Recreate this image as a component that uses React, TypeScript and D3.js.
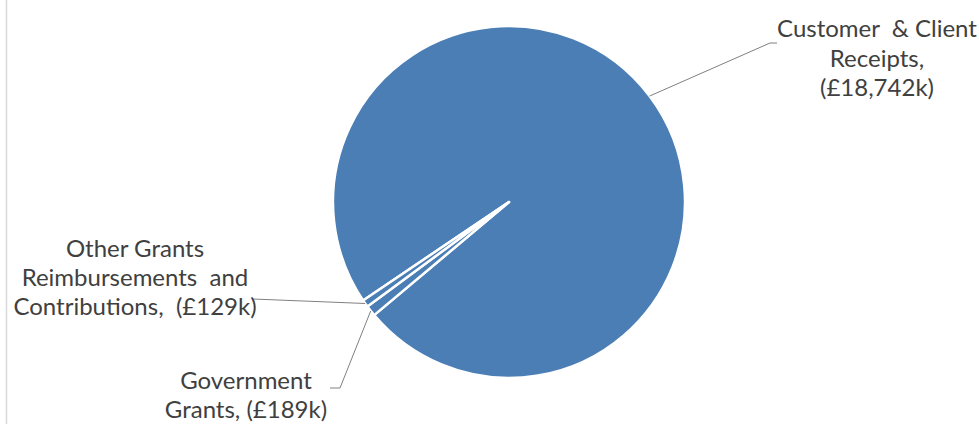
import React from "react";
import * as d3 from "d3";

const categories = [
  "Customer & Client Receipts",
  "Government Grants",
  "Other Grants Reimbursements and Contributions",
];
const values = [18742, 189, 129];
const labelLines = [
  ["Customer  & Client", "Receipts,", "(£18,742k)"],
  ["Government", "Grants, (£189k)"],
  ["Other Grants", "Reimbursements  and", "Contributions,  (£129k)"],
];

const W = 979;
const H = 424;
const cx = 509;
const cy = 202;
const R = 176;
const START = (236 * Math.PI) / 180;
const FILL = "#4a7eb4";
const TEXT = "#404040";
const LEADER = "#808080";
const FONT = "Lato, 'Open Sans', sans-serif";
const FS = 24;

// label layout: center x, first baseline, line pitch, leader elbow points
const labelLayout = [
  { x: 877, y: 37, pitch: 29.5, elbow: [[770, 43], [777, 43]] },
  { x: 246, y: 389, pitch: 29, elbow: [[340, 388], [330, 388]] },
  { x: 135, y: 257, pitch: 29, elbow: [[253, 299]] },
];

export default function App() {
  const pie = d3
    .pie<number>()
    .sort(null)
    .startAngle(START)
    .endAngle(START + 2 * Math.PI);
  const arcs = pie(values);
  const arc = d3.arc<d3.PieArcDatum<number>>().innerRadius(0).outerRadius(R);

  return (
    <svg
      width={W}
      height={H}
      style={{ position: "absolute", left: 0, top: 0, background: "#fff" }}
    >
      <rect x={0} y={0} width={W} height={H} fill="#fff" />
      <line x1={6.5} y1={0} x2={6.5} y2={H} stroke="#d9d9d9" strokeWidth={1.5} />
      <g transform={`translate(${cx},${cy})`}>
        {arcs.map((a, i) => (
          <path
            key={categories[i]}
            d={arc(a) || ""}
            fill={FILL}
            stroke="#fff"
            strokeWidth={2.5}
            strokeLinejoin="round"
          />
        ))}
      </g>
      {arcs.map((a, i) => {
        const mid = (a.startAngle + a.endAngle) / 2;
        const px = cx + R * Math.sin(mid);
        const py = cy - R * Math.cos(mid);
        const pts = [[px, py], ...labelLayout[i].elbow];
        const line = d3.line()(pts as [number, number][]) || "";
        return (
          <path key={"l" + i} d={line} fill="none" stroke={LEADER} strokeWidth={1} />
        );
      })}
      {labelLines.map((lines, i) => (
        <text
          key={"t" + i}
          fontFamily={FONT}
          fontSize={FS}
          fill={TEXT}
          textAnchor="middle"
          style={{ whiteSpace: "pre" }}
        >
          {lines.map((ln, j) => (
            <tspan
              key={j}
              x={labelLayout[i].x}
              y={labelLayout[i].y + j * labelLayout[i].pitch}
            >
              {ln}
            </tspan>
          ))}
        </text>
      ))}
    </svg>
  );
}
